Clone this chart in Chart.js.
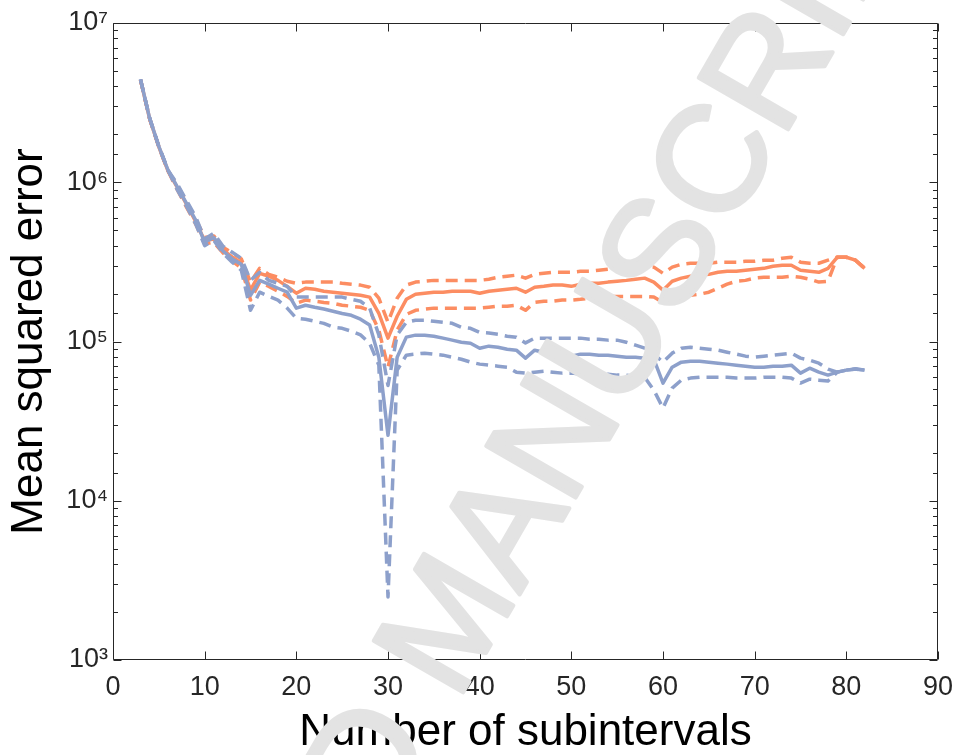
<!DOCTYPE html>
<html><head><meta charset="utf-8">
<script src="https://cdn.jsdelivr.net/npm/chart.js@4.4.0/dist/chart.umd.min.js"></script>
<style>html,body{margin:0;padding:0;background:#fff;}canvas{display:block;}</style>
</head><body>
<canvas id="c" width="956" height="755"></canvas>
<script>
const subintervals = [3,4,5,6,7,8,9,10,11,12,13,14,15,16,17,18,19,20,21,22,23,24,25,26,27,28,29,30,31,32,33,34,35,36,37,38,39,40,41,42,43,44,45,46,47,48,49,50,51,52,53,54,55,56,57,58,59,60,61,62,63,64,65,66,67,68,69,70,71,72,73,74,75,76,77,78,79,80,81,82];

const blueMean = [4.42e6,2.52e6,1.68e6,1.19e6,9.4e5,7.4e5,5.8e5,4.2e5,4.5e5,3.7e5,
 3.3e5,3.05e5,1.95e5,2.42e5,2.29e5,2.16e5,2.04e5,1.62e5,1.69e5,1.64e5,
 1.60e5,1.55e5,1.50e5,1.46e5,1.38e5,1.27e5,7.97e4,2.58e4,7.97e4,1.065e5,
 1.096e5,1.096e5,1.08e5,1.05e5,1.02e5,9.9e4,9.76e4,9.08e4,9.35e4,9.21e4,
 8.95e4,8.82e4,7.86e4,8.82e4,8.57e4,8.33e4,8.21e4,8.09e4,8.33e4,8.33e4,
 8.21e4,8.21e4,8.09e4,7.97e4,7.97e4,7.86e4,7.75e4,5.48e4,6.90e4,7.42e4,
 7.52e4,7.52e4,7.42e4,7.31e4,7.21e4,7.10e4,7.00e4,6.90e4,6.90e4,7.00e4,
 7.00e4,7.10e4,6.33e4,6.80e4,6.42e4,6.15e4,6.42e4,6.61e4,6.71e4,6.61e4];

const blueUpper = [4.42e6,2.52e6,1.68e6,1.19e6,9.8e5,7.7e5,6.1e5,4.4e5,4.78e5,3.96e5,
 3.63e5,3.33e5,2.42e5,2.72e5,2.42e5,2.32e5,2.22e5,1.90e5,1.90e5,1.90e5,
 1.90e5,1.90e5,1.90e5,1.84e5,1.79e5,1.62e5,1.10e5,5.3e4,1.10e5,1.32e5,
 1.36e5,1.36e5,1.34e5,1.32e5,1.30e5,1.23e5,1.21e5,1.14e5,1.13e5,1.11e5,
 1.08e5,1.065e5,9.8e4,1.05e5,1.05e5,1.05e5,1.05e5,1.05e5,1.05e5,1.034e5,
 1.034e5,1.02e5,1.02e5,9.9e4,9.48e4,9.08e4,8.33e4,7.42e4,8.45e4,9.08e4,
 9.21e4,9.08e4,8.95e4,8.82e4,8.57e4,8.33e4,8.09e4,7.97e4,8.09e4,8.21e4,
 8.33e4,8.45e4,7.86e4,7.64e4,7.31e4,6.71e4,6.42e4,6.61e4,6.71e4,6.61e4];

const blueLower = [4.42e6,2.52e6,1.68e6,1.19e6,9.0e5,7.1e5,5.5e5,4.0e5,4.32e5,3.58e5,
 3.15e5,2.80e5,1.57e5,2.04e5,1.92e5,1.82e5,1.62e5,1.40e5,1.38e5,1.34e5,
 1.30e5,1.23e5,1.21e5,1.16e5,1.10e5,9.76e4,7.10e4,2.49e3,6.61e4,8.21e4,
 8.33e4,8.45e4,8.33e4,8.21e4,7.97e4,7.74e4,7.42e4,7.21e4,7.10e4,7.00e4,
 6.90e4,6.42e4,6.33e4,6.42e4,6.51e4,6.42e4,6.33e4,6.33e4,6.24e4,6.24e4,
 6.24e4,6.24e4,6.15e4,6.15e4,6.06e4,5.97e4,4.95e4,3.82e4,5.10e4,5.72e4,
 5.89e4,5.97e4,5.97e4,5.97e4,5.97e4,5.89e4,5.89e4,5.89e4,5.97e4,5.97e4,
 5.97e4,5.89e4,5.48e4,5.80e4,5.72e4,5.64e4,6.42e4,6.61e4,6.71e4,6.61e4];

const orangeMean = [4.40e6,2.50e6,1.67e6,1.18e6,9.3e5,7.3e5,5.7e5,4.3e5,4.4e5,3.75e5,
 3.4e5,3.1e5,2.10e5,2.68e5,2.57e5,2.42e5,2.22e5,2.01e5,2.16e5,2.13e5,
 2.07e5,2.04e5,2.01e5,1.98e5,1.95e5,1.90e5,1.50e5,1.05e5,1.44e5,1.84e5,
 1.98e5,2.01e5,2.04e5,2.04e5,2.07e5,2.07e5,2.07e5,2.01e5,2.07e5,2.10e5,
 2.13e5,2.16e5,2.04e5,2.19e5,2.22e5,2.26e5,2.26e5,2.22e5,2.29e5,2.32e5,
 2.32e5,2.36e5,2.39e5,2.42e5,2.46e5,2.50e5,2.36e5,2.10e5,2.39e5,2.50e5,
 2.57e5,2.61e5,2.64e5,2.72e5,2.76e5,2.76e5,2.80e5,2.84e5,2.88e5,2.97e5,
 3.01e5,3.01e5,2.80e5,2.76e5,2.72e5,2.88e5,3.38e5,3.38e5,3.24e5,2.88e5];

const orangeUpper = [4.40e6,2.50e6,1.67e6,1.18e6,9.6e5,7.6e5,5.9e5,4.5e5,4.6e5,3.9e5,
 3.6e5,3.3e5,2.36e5,2.88e5,2.64e5,2.53e5,2.39e5,2.32e5,2.36e5,2.36e5,
 2.36e5,2.36e5,2.32e5,2.29e5,2.26e5,2.19e5,1.87e5,1.32e5,1.87e5,2.26e5,
 2.36e5,2.39e5,2.42e5,2.42e5,2.42e5,2.42e5,2.42e5,2.42e5,2.46e5,2.53e5,
 2.57e5,2.61e5,2.50e5,2.64e5,2.68e5,2.72e5,2.72e5,2.72e5,2.76e5,2.76e5,
 2.80e5,2.84e5,2.88e5,2.93e5,2.97e5,2.97e5,2.93e5,2.68e5,2.93e5,3.05e5,
 3.10e5,3.10e5,3.10e5,3.15e5,3.15e5,3.15e5,3.19e5,3.19e5,3.24e5,3.24e5,
 3.33e5,3.38e5,3.15e5,3.10e5,3.10e5,3.24e5,3.38e5,3.38e5,3.24e5,2.88e5];

const orangeLower = [4.40e6,2.50e6,1.67e6,1.18e6,9.0e5,7.0e5,5.5e5,4.1e5,4.2e5,3.6e5,
 3.2e5,2.9e5,1.82e5,2.36e5,2.22e5,2.07e5,1.92e5,1.74e5,1.82e5,1.79e5,
 1.76e5,1.74e5,1.69e5,1.665e5,1.64e5,1.57e5,1.18e5,6.9e4,1.18e5,1.48e5,
 1.57e5,1.595e5,1.62e5,1.62e5,1.62e5,1.62e5,1.62e5,1.62e5,1.64e5,1.665e5,
 1.665e5,1.69e5,1.57e5,1.76e5,1.79e5,1.79e5,1.82e5,1.82e5,1.84e5,1.87e5,
 1.90e5,1.92e5,1.92e5,1.92e5,1.92e5,1.92e5,1.90e5,1.76e5,1.87e5,1.90e5,
 1.95e5,1.98e5,2.04e5,2.16e5,2.29e5,2.39e5,2.42e5,2.50e5,2.53e5,2.53e5,
 2.53e5,2.57e5,2.53e5,2.46e5,2.36e5,2.39e5,3.38e5,3.38e5,3.24e5,2.88e5];

const xTickValues = [0,10,20,30,40,50,60,70,80,90];
const xAxisTitle = 'Number of subintervals';
const yAxisTitle = 'Mean squared error';
const watermarkText = 'ACCEPTED MANUSCRIPT';

const BLUE = '#8DA0CB';
const ORANGE = '#FC8D62';
const AXC = '#262626';
const FONT = '"Liberation Sans", Arial, Helvetica, sans-serif';
const SUP = {'0':'\u2070','1':'\u00B9','2':'\u00B2','3':'\u00B3','4':'\u2074','5':'\u2075','6':'\u2076','7':'\u2077','8':'\u2078','9':'\u2079'};

function series(arr){ return subintervals.map((x,i)=>({x:x, y:arr[i]})); }
function ds(label, arr, color, dashed){
  return {label:label, data:series(arr), borderColor:color, backgroundColor:color,
    borderWidth:3.5, borderDash: dashed ? [12,7] : [], pointRadius:0, pointHoverRadius:0,
    tension:0, fill:false, borderJoinStyle:'round', borderCapStyle:'butt'};
}

const matlabAxes = {
  id:'matlabAxes',
  afterDatasetsDraw(chart){
    const {ctx, chartArea:a, scales:{x,y}} = chart;
    const L = Math.round(a.left)+0.5, R = Math.round(a.right)-0.5, T = Math.round(a.top)+0.5, B = Math.round(a.bottom)-0.5;
    ctx.save();
    ctx.strokeStyle = AXC; ctx.lineWidth = 1;
    ctx.beginPath();
    ctx.rect(L, T, R-L, B-T);
    xTickValues.forEach(v=>{
      const px = Math.round(x.getPixelForValue(v))+0.5;
      ctx.moveTo(px, B); ctx.lineTo(px, B-8);
      ctx.moveTo(px, T); ctx.lineTo(px, T+8);
    });
    y.ticks.forEach(t=>{
      const e = Math.log10(t.value);
      const major = Math.abs(e-Math.round(e))<1e-9;
      const len = major ? 8 : 4.5;
      const py = Math.round(y.getPixelForValue(t.value))+0.5;
      ctx.moveTo(L, py); ctx.lineTo(L+len, py);
      ctx.moveTo(R, py); ctx.lineTo(R-len, py);
    });
    ctx.stroke();
    ctx.restore();
  }
};

const watermark = {
  id:'watermark',
  afterDraw(chart){
    const ctx = chart.ctx;
    ctx.save();
    ctx.translate(457, 703);
    ctx.rotate(-Math.PI/3);
    ctx.font = '150px "Liberation Sans", Arial, sans-serif';
    ctx.fillStyle = 'rgb(227,227,227)';
    ctx.strokeStyle = 'rgb(227,227,227)';
    ctx.lineWidth = 4; ctx.lineJoin = 'round';
    ctx.textBaseline = 'alphabetic'; ctx.textAlign = 'left';
    const pre = ctx.measureText('ACCEPTED ').width;
    ctx.fillText(watermarkText, -pre, 0);
    ctx.strokeText(watermarkText, -pre, 0);
    ctx.restore();
  }
};

new Chart(document.getElementById('c'), {
  type:'line',
  data:{ datasets:[
    ds('Blue mean', blueMean, BLUE, false),
    ds('Blue upper', blueUpper, BLUE, true),
    ds('Blue lower', blueLower, BLUE, true),
    ds('Orange mean', orangeMean, ORANGE, false),
    ds('Orange upper', orangeUpper, ORANGE, true),
    ds('Orange lower', orangeLower, ORANGE, true)
  ]},
  options:{
    responsive:false, animation:false, devicePixelRatio:1,
    layout:{padding:{top:23, right:18, left:0, bottom:0}},
    plugins:{legend:{display:false}, tooltip:{enabled:false}},
    scales:{
      x:{type:'linear', min:0, max:90,
        afterFit(s){ s.height = 95; s.paddingLeft = 0; s.paddingRight = 0; },
        afterBuildTicks(s){ s.ticks = xTickValues.map(v=>({value:v})); },
        ticks:{autoSkip:false, maxRotation:0, color:AXC, padding:11, font:{family:FONT, size:27},
          callback:(v)=>String(v)},
        grid:{display:false, drawTicks:false}, border:{display:false},
        title:{display:true, text:xAxisTitle, color:'#000', font:{family:FONT, size:44, lineHeight:0.9}, padding:{top:0,bottom:2}}
      },
      y:{type:'logarithmic', min:1e3, max:1e7,
        afterFit(s){ s.width = 113; s.paddingTop = 0; s.paddingBottom = 0; },
        ticks:{autoSkip:false, color:AXC, padding:5, font:{family:FONT, size:27},
          callback:(v)=>{ const e = Math.log10(v); if (Math.abs(e-Math.round(e))<1e-9){ return '10' + String(Math.round(e)).split('').map(c=>SUP[c]).join(''); } return ''; }},
        grid:{display:false, drawTicks:false}, border:{display:false},
        title:{display:true, text:yAxisTitle, color:'#000', font:{family:FONT, size:44, lineHeight:0.9}, padding:{top:10,bottom:0}}
      }
    }
  },
  plugins:[matlabAxes, watermark]
});
</script>
</body></html>
